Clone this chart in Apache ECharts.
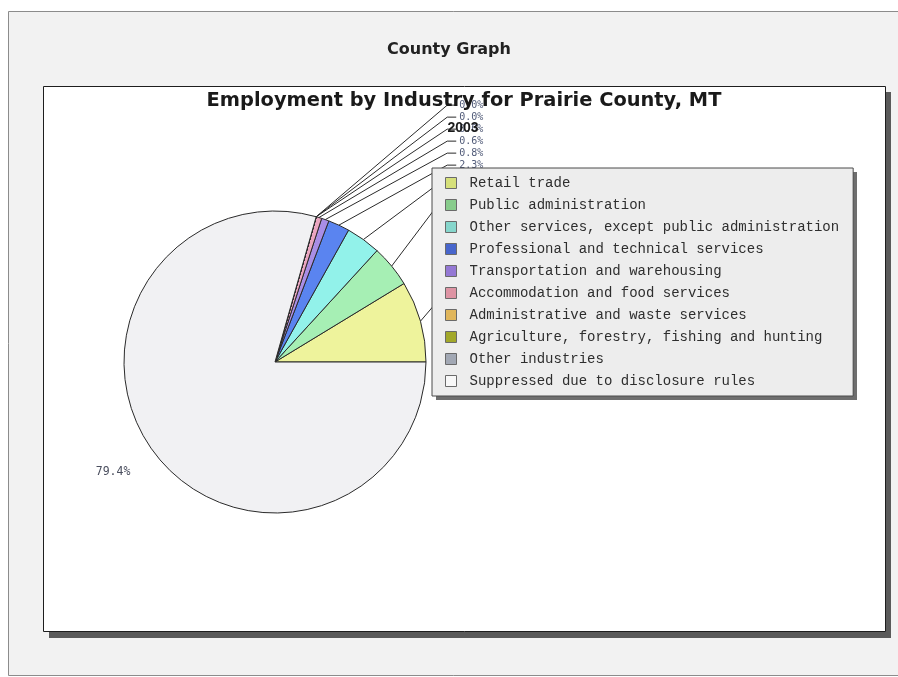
<!DOCTYPE html>
<html>
<head>
<meta charset="utf-8">
<script src="https://cdn.jsdelivr.net/npm/echarts@6/dist/echarts.min.js"></script>
<style>
  html, body { margin: 0; padding: 0; background: #ffffff; }
  #chart { width: 898px; height: 677px; }
</style>
</head>
<body>
<div id="chart"></div>
<script>
// Employment shares by industry, Prairie County, MT (2003), in percent
const industries = [
  'Retail trade',
  'Public administration',
  'Other services, except public administration',
  'Professional and technical services',
  'Transportation and warehousing',
  'Accommodation and food services',
  'Administrative and waste services',
  'Agriculture, forestry, fishing and hunting',
  'Other industries',
  'Suppressed due to disclosure rules'
];
const shares = [8.7, 4.5, 3.7, 2.3, 0.8, 0.6, 0.0, 0.0, 0.0, 79.4];
const sliceColors = ['#eef39c', '#a6efb4', '#92f2ea', '#5a84f0', '#a98ee6', '#eaa6c0', '#f0c878', '#b4b440', '#aab0c4', '#f1f1f3'];
const swatchColors = ['#d6e07a', '#88cc8c', '#86d6cc', '#4866cc', '#9478d4', '#de94a4', '#e0b65c', '#a2a82a', '#a2a8b4', '#f8f8f8'];

const chartTitle = 'Employment by Industry for Prairie County, MT';
const chartYear = '2003';
const pageTitle = 'County Graph';

const pieCenter = [275, 362];
const pieRadius = 151;
// right-hand labels line up in one column a little beyond the rim
const labelColumnX = pieCenter[0] + pieRadius * 1.22;

const chart = echarts.init(document.getElementById('chart'), null, { renderer: 'canvas' });

const lastIndex = industries.length - 1;
const pieData = industries.map((name, i) => {
  const item = {
    name: name,
    value: shares[i],
    itemStyle: { color: sliceColors[i], borderColor: '#2a2a2a', borderWidth: 1 }
  };
  if (i === lastIndex) {
    // the large slice carries its label just outside the rim, without a guide line
    item.labelLine = { show: false, length: 24, length2: 0 };
    item.label = { fontSize: 11.5, color: '#4a4e5e' };
  }
  return item;
});

const option = {
  backgroundColor: '#ffffff',
  animation: false,
  graphic: [
    { type: 'rect', z: -20, shape: { x: 8.5, y: 11.5, width: 900, height: 664 },
      style: { fill: '#f2f2f2', stroke: '#8c8c8c', lineWidth: 1 } },
    { type: 'rect', z: -19, shape: { x: 49, y: 92, width: 842, height: 546 },
      style: { fill: '#5a5a5a' } },
    { type: 'rect', z: -18, shape: { x: 43.5, y: 86.5, width: 842, height: 545 },
      style: { fill: '#ffffff', stroke: '#1e1e1e', lineWidth: 1 } },
    // drop shadow under the legend box
    { type: 'rect', z: -17, shape: { x: 436, y: 172, width: 421, height: 228 },
      style: { fill: '#6e6e6e' } }
  ],
  title: [
    { text: pageTitle, left: 449, top: 42, textAlign: 'center', padding: 0,
      textStyle: { fontFamily: 'DejaVu Sans', fontWeight: 'bold', fontSize: 16, color: '#222' } },
    { text: chartTitle, left: 464, top: 91, textAlign: 'center', padding: 0,
      textStyle: { fontFamily: 'DejaVu Sans', fontWeight: 'bold', fontSize: 19.4, color: '#1a1a1a' } },
    { text: chartYear, left: 463, top: 121, textAlign: 'center', padding: 0,
      textStyle: { fontFamily: 'Liberation Sans', fontWeight: 'bold', fontSize: 14, color: '#1a1a1a' } }
  ],
  legend: {
    orient: 'vertical',
    left: 432,
    top: 168,
    icon: 'rect',
    itemWidth: 11,
    itemHeight: 11,
    itemGap: 8,
    padding: [8, 14, 8, 13],
    backgroundColor: '#ededed',
    borderColor: '#4a4a4a',
    borderWidth: 1,
    borderRadius: 0,
    selectedMode: false,
    textStyle: { fontFamily: 'Liberation Mono', fontSize: 14, lineHeight: 14, color: '#2e2e2e', padding: [0, 0, 0, 8] },
    data: industries.map((name, i) => ({
      name: name,
      itemStyle: { color: swatchColors[i], borderColor: '#6a6a6a', borderWidth: 1 }
    })),
    z: 10
  },
  series: [{
    type: 'pie',
    center: pieCenter,
    radius: pieRadius,
    startAngle: 0,
    clockwise: false,
    avoidLabelOverlap: true,
    data: pieData,
    label: {
      show: true,
      position: 'outside',
      formatter: p => p.value.toFixed(1) + '%',
      fontFamily: 'DejaVu Sans Mono',
      fontSize: 10,
      color: '#505a78'
    },
    labelLine: {
      show: true,
      length: 116,
      length2: 10,
      smooth: false,
      lineStyle: { color: '#2a2a2a', width: 1 }
    },
    // guide lines run straight from the rim to the label column, ending in a short tail
    labelLayout: function (params) {
      const pts = params.labelLinePoints;
      if (params.dataIndex === lastIndex) return { dy: 5 };
      if (!pts) return {};
      const r = params.labelRect;
      const y = r.y + r.height / 2;
      return {
        x: labelColumnX,
        y: y,
        align: 'left',
        verticalAlign: 'middle',
        labelLinePoints: [pts[0], [labelColumnX - 12, y], [labelColumnX - 3, y]]
      };
    },
    emphasis: { disabled: true },
    z: 2
  }]
};

chart.setOption(option);
</script>
</body>
</html>
